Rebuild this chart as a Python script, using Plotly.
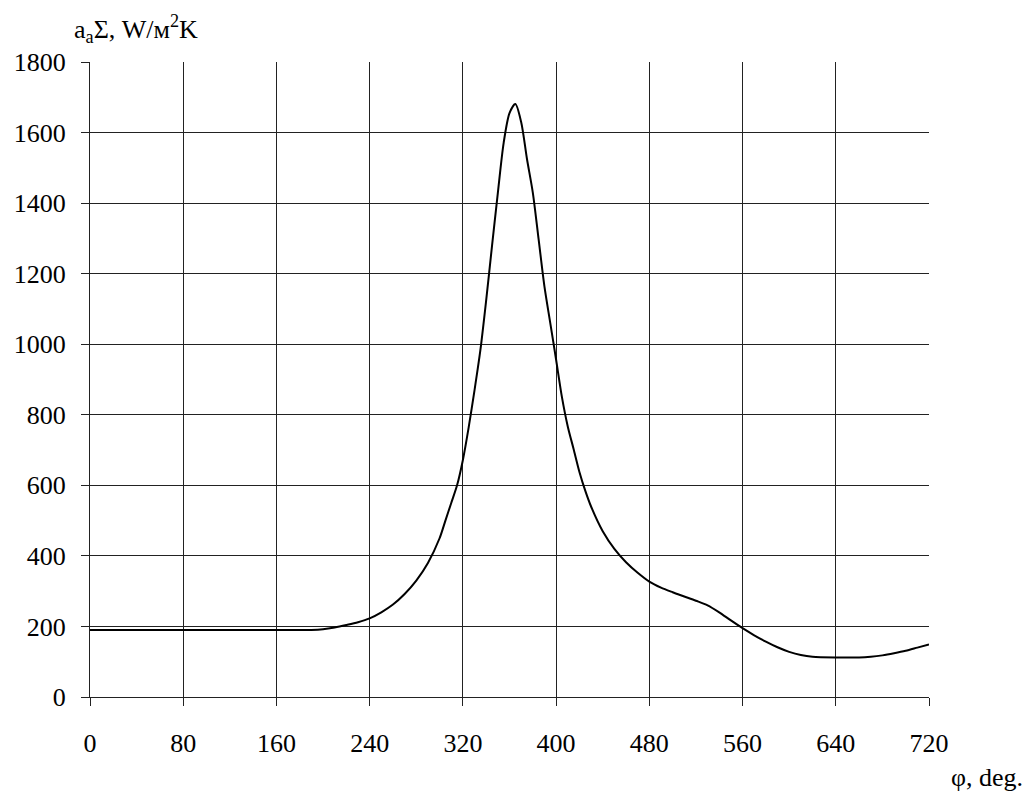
import plotly.graph_objects as go

phi = [0, 40, 80, 120, 160, 190, 200, 210, 220, 230, 240, 250, 260, 270, 280, 290,
       300, 305, 310, 315, 320, 325, 330, 335, 340, 345, 350, 355, 360, 365,
       370, 375, 380, 385, 390, 395, 400, 405, 410, 415, 420, 425, 430,
       440, 450, 460, 470, 480, 490, 500, 510, 520, 530, 540, 550, 560, 570,
       580, 590, 600, 610, 620, 640, 660, 670, 680, 690, 700, 710, 720]
alpha = [190, 190, 190, 190, 190, 190, 192, 197, 204, 212, 223, 240, 262, 292, 330, 380,
         450, 500, 550, 600, 672, 765, 870, 983, 1125, 1279, 1429, 1571, 1655, 1681,
         1630, 1525, 1430, 1297, 1163, 1060, 956, 850, 767, 703, 638, 585, 540,
         470, 420, 382, 352, 327, 310, 297, 285, 273, 260, 240, 217, 195, 175,
         157, 141, 128, 119, 114, 112, 112, 114, 118, 124, 131, 140, 149]

x_ticks = [0, 80, 160, 240, 320, 400, 480, 560, 640, 720]
y_ticks = [0, 200, 400, 600, 800, 1000, 1200, 1400, 1600, 1800]

FAM = "'Times New Roman', 'Liberation Serif', Times, serif"
font = dict(family=FAM, size=26, color="black")

W, H = 1026, 794
L, R, T, B = 90, 97, 62, 97
pw, ph = W - L - R, H - T - B


def px2paper(px, py):
    return (px - L) / pw, (H - B - py) / ph


fig = go.Figure()
fig.add_trace(go.Scatter(x=phi, y=alpha, mode="lines",
                         line=dict(color="black", width=2, shape="spline", smoothing=0.8),
                         showlegend=False, hoverinfo="skip"))

ax1 = px2paper(72, 29)
ax2 = px2paper(1025, 777)

fig.update_layout(
    width=W, height=H,
    margin=dict(l=L, r=R, t=T, b=B),
    paper_bgcolor="white", plot_bgcolor="white",
    font=font,
    xaxis=dict(range=[0, 720], tickvals=x_ticks, ticktext=[str(v) for v in x_ticks],
               tickfont=font,
               showgrid=True, gridcolor="#222", gridwidth=1,
               showline=True, linecolor="#222", linewidth=1,
               ticks="outside", ticklen=8, tickcolor="#222",
               ticklabelstandoff=15, zeroline=False),
    yaxis=dict(range=[0, 1800], tickvals=y_ticks, ticktext=[str(v) for v in y_ticks],
               tickfont=font,
               showgrid=True, gridcolor="#222", gridwidth=1,
               showline=True, linecolor="#222", linewidth=1,
               ticks="outside", ticklen=8, tickcolor="#222",
               ticklabelstandoff=10, zeroline=False),
    annotations=[
        dict(text="a<sub>a</sub>Σ, W/м<sup>2</sup>K", x=ax1[0], y=ax1[1],
             xref="paper", yref="paper",
             showarrow=False, xanchor="left", yanchor="middle", font=font),
        dict(text="φ, deg.", x=ax2[0], y=ax2[1], xref="paper", yref="paper",
             showarrow=False, xanchor="right", yanchor="middle", font=font),
    ],
)
fig.write_html("out.html")
